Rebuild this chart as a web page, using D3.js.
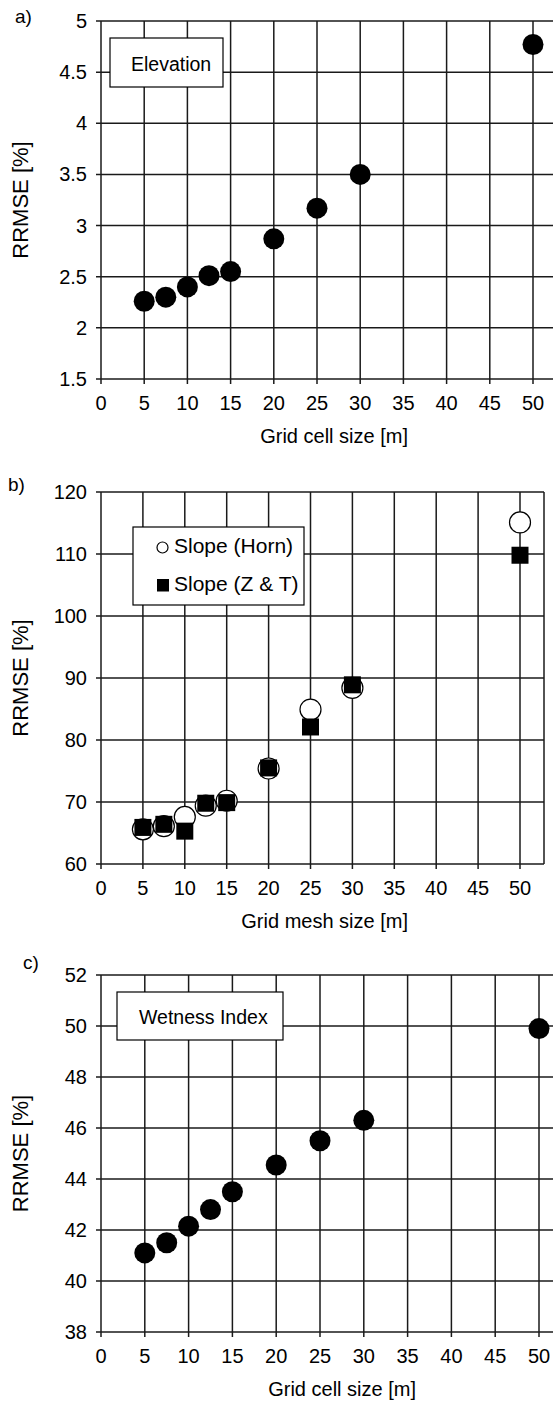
<!DOCTYPE html>
<html><head><meta charset="utf-8">
<script src="https://cdn.jsdelivr.net/npm/d3@7"></script>
<style>body{margin:0;background:#fff}svg{display:block}text{font-family:"Liberation Sans",Arial,sans-serif;fill:#000}</style>
</head><body>
<svg id="c" width="553" height="1403"></svg>
<script>
const cellSizes = [5, 7.5, 10, 12.5, 15, 20, 25, 30, 50];
const elevation = [2.26, 2.30, 2.40, 2.51, 2.55, 2.87, 3.17, 3.50, 4.77];
const slopeHorn = [65.6, 66.1, 67.6, 69.4, 70.2, 75.4, 84.9, 88.4, 115.1];
const slopeZT = [65.9, 66.4, 65.3, 69.8, 69.9, 75.5, 82.1, 88.9, 109.8];
const wetness = [41.1, 41.5, 42.15, 42.8, 43.5, 44.55, 45.5, 46.3, 49.9];
const xTicks = [0, 5, 10, 15, 20, 25, 30, 35, 40, 45, 50];
const yTicksA = [1.5, 2, 2.5, 3, 3.5, 4, 4.5, 5];
const yTicksB = [60, 70, 80, 90, 100, 110, 120];
const yTicksC = [38, 40, 42, 44, 46, 48, 50, 52];

const svg = d3.select("#c");
const grid = "#1a1a1a";

function panel(o) {
  const g = svg.append("g");
  const x = d3.scaleLinear().domain([0, 50]).range([o.x0, o.x50]);
  const y = d3.scaleLinear().domain(o.yDom).range([o.yb, o.yt]);
  const right = o.right;
  g.selectAll(".hg").data(o.yTicks).enter().append("line")
    .attr("x1", o.x0 - 5).attr("x2", right).attr("y1", d => y(d)).attr("y2", d => y(d))
    .attr("stroke", grid).attr("stroke-width", 1.5);
  g.selectAll(".vg").data(xTicks).enter().append("line")
    .attr("x1", d => x(d)).attr("x2", d => x(d)).attr("y1", o.yt).attr("y2", o.yb + 5)
    .attr("stroke", grid).attr("stroke-width", 1.5);
  if (o.border) {
    g.append("line").attr("x1", right).attr("x2", right).attr("y1", o.yt).attr("y2", o.yb)
      .attr("stroke", grid).attr("stroke-width", 1.5);
  }
  g.selectAll(".yl").data(o.yTicks).enter().append("text")
    .attr("x", o.x0 - 14).attr("y", d => y(d) + 7).attr("text-anchor", "end")
    .attr("font-size", 20).text(d => d);
  g.selectAll(".xl").data(xTicks).enter().append("text")
    .attr("x", d => x(d)).attr("y", o.yb + 31).attr("text-anchor", "middle")
    .attr("font-size", 20).text(d => d);
  g.append("text").attr("x", o.titleEnd).attr("y", o.yb + 64)
    .attr("text-anchor", "end").attr("font-size", 20).text(o.xTitle);
  g.append("text").attr("transform", `translate(28,${(o.yt + o.yb) / 2}) rotate(-90)`)
    .attr("text-anchor", "middle").attr("font-size", 22).text("RRMSE [%]");
  g.append("text").attr("x", o.lx).attr("y", o.ly).attr("font-size", 19).text(o.label);
  const marks = g.append("g");
  return {g, x, y, marks};
}

// Panel a
const pa = panel({id: "a", x0: 101, x50: 533, right: 560, yt: 21, yb: 379, yDom: [1.5, 5],
  yTicks: yTicksA, xTitle: "Grid cell size [m]", titleEnd: 408, label: "a)", lx: 15, ly: 23});
pa.marks.selectAll("circle").data(cellSizes).enter().append("circle")
  .attr("cx", d => pa.x(d)).attr("cy", (d, i) => pa.y(elevation[i])).attr("r", 10.5).attr("fill", "#000");
pa.g.append("rect").attr("x", 110).attr("y", 38).attr("width", 113).attr("height", 49)
  .attr("fill", "#fff").attr("stroke", "#000").attr("stroke-width", 1.2);
pa.g.append("text").attr("x", 131).attr("y", 71).attr("font-size", 19.5).text("Elevation");

// Panel b
const pb = panel({id: "b", x0: 101, x50: 520, right: 544, border: true, yt: 492, yb: 864, yDom: [60, 120],
  yTicks: yTicksB, xTitle: "Grid mesh size [m]", titleEnd: 408, label: "b)", lx: 8, ly: 491});
pb.marks.selectAll("circle").data(cellSizes).enter().append("circle")
  .attr("cx", d => pb.x(d)).attr("cy", (d, i) => pb.y(slopeHorn[i])).attr("r", 10.5)
  .attr("fill", "#fff").attr("stroke", "#000").attr("stroke-width", 1.2);
pb.marks.selectAll("rect").data(cellSizes).enter().append("rect")
  .attr("x", d => pb.x(d) - 8.5).attr("y", (d, i) => pb.y(slopeZT[i]) - 8.5)
  .attr("width", 17).attr("height", 17).attr("fill", "#000");
pb.g.append("rect").attr("x", 133).attr("y", 527).attr("width", 171).attr("height", 78)
  .attr("fill", "#fff").attr("stroke", "#000").attr("stroke-width", 1.2);
pb.g.append("circle").attr("cx", 162.5).attr("cy", 547.5).attr("r", 5.5)
  .attr("fill", "#fff").attr("stroke", "#000").attr("stroke-width", 1.2);
pb.g.append("text").attr("x", 174).attr("y", 553).attr("font-size", 21).text("Slope (Horn)");
pb.g.append("rect").attr("x", 157).attr("y", 579).attr("width", 12).attr("height", 12.5).attr("fill", "#000");
pb.g.append("text").attr("x", 174).attr("y", 591).attr("font-size", 21).text("Slope (Z & T)");

// Panel c
const pc = panel({id: "c", x0: 101, x50: 539, right: 560, yt: 975, yb: 1332, yDom: [38, 52],
  yTicks: yTicksC, xTitle: "Grid cell size [m]", titleEnd: 416, label: "c)", lx: 23, ly: 969});
pc.marks.selectAll("circle").data(cellSizes).enter().append("circle")
  .attr("cx", d => pc.x(d)).attr("cy", (d, i) => pc.y(wetness[i])).attr("r", 10.5).attr("fill", "#000");
pc.g.append("rect").attr("x", 117).attr("y", 992).attr("width", 166).attr("height", 48)
  .attr("fill", "#fff").attr("stroke", "#000").attr("stroke-width", 1.2);
pc.g.append("text").attr("x", 139).attr("y", 1024).attr("font-size", 19.5).text("Wetness Index");
</script>
</body></html>
